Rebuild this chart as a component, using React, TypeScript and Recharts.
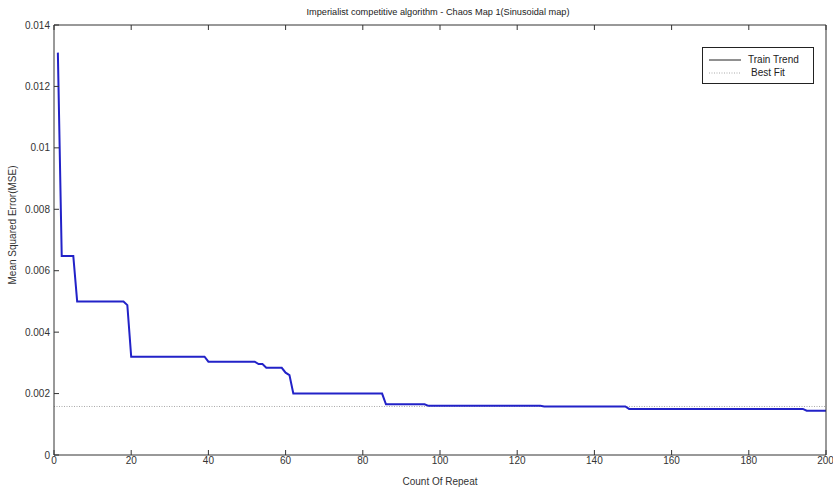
import React from 'react';
import { LineChart, Line, XAxis, YAxis, ReferenceLine } from 'recharts';

const chartTitle = 'Imperialist competitive algorithm - Chaos Map 1(Sinusoidal map)';

// breakpoints of the MSE curve
const iterations = [1, 2, 5, 6, 18, 19, 20, 39, 40, 52, 53, 54, 55, 59, 60, 61, 62, 85, 86, 96, 97, 126, 127, 148, 149, 194, 195, 200];
const mseValues = [
  0.0131, 0.00648, 0.00648, 0.005, 0.005, 0.00488, 0.0032, 0.0032, 0.00304, 0.00304,
  0.00296, 0.00296, 0.00284, 0.00284, 0.00268, 0.0026, 0.002, 0.002, 0.00165, 0.00165,
  0.0016, 0.0016, 0.00158, 0.00158, 0.0015, 0.0015, 0.00144, 0.00144,
];
const bestFit = 0.00158;

const xTicks = [0, 20, 40, 60, 80, 100, 120, 140, 160, 180, 200];
const yTicks = [0, 0.002, 0.004, 0.006, 0.008, 0.01, 0.012, 0.014];

const data = iterations.map((it, i) => ({ it, mse: mseValues[i] }));

const axisColor = '#333';
const font = '"Liberation Sans", Arial, sans-serif';

const LegendBox = () => (
  <div
    style={{
      position: 'absolute',
      left: 702,
      top: 47,
      width: 110,
      height: 35,
      border: '1px solid #222',
      background: '#fff',
      fontFamily: font,
      fontSize: 10,
      color: '#222',
    }}
  >
    <svg width={40} height={35} style={{ position: 'absolute', left: 0, top: 0 }}>
      <line x1={6} y1={12} x2={38} y2={12} stroke="#222" strokeWidth={1} />
      <line x1={6} y1={25} x2={38} y2={25} stroke="#aaa" strokeWidth={1} strokeDasharray="1 1.5" />
    </svg>
    <div style={{ position: 'absolute', left: 45, top: 6, lineHeight: '12px' }}>Train Trend</div>
    <div style={{ position: 'absolute', left: 48, top: 19, lineHeight: '12px' }}>Best Fit</div>
  </div>
);

export default function App() {
  return (
    <div style={{ position: 'absolute', left: 0, top: 0, width: 833, height: 491, background: '#fff' }}>
      <LineChart
        width={833}
        height={491}
        data={data}
        margin={{ top: 24, right: 6, bottom: 0, left: 0 }}
        style={{ fontFamily: font }}
      >
        <XAxis
          xAxisId="bottom"
          dataKey="it"
          type="number"
          domain={[0, 200]}
          ticks={xTicks}
          height={36}
          stroke={axisColor}
          tickSize={-5}
          tickMargin={7}
          tick={{ fontSize: 10, fill: '#333' }}
          label={{ value: 'Count Of Repeat', position: 'insideBottom', offset: 6, fontSize: 10, fill: '#333' }}
        />
        <XAxis
          xAxisId="top"
          dataKey="it"
          type="number"
          orientation="top"
          domain={[0, 200]}
          ticks={xTicks}
          height={1}
          stroke={axisColor}
          tickSize={-5}
          tickFormatter={() => ''}
        />
        <YAxis
          yAxisId="left"
          type="number"
          domain={[0, 0.014]}
          ticks={yTicks}
          width={54}
          stroke={axisColor}
          tickSize={-5}
          tickMargin={9}
          tick={{ fontSize: 10, fill: '#333' }}
          label={{
            value: 'Mean Squared Error(MSE)',
            angle: -90,
            position: 'insideLeft',
            offset: 12,
            dy: -15,
            fontSize: 10,
            fill: '#333',
            style: { textAnchor: 'middle' },
          }}
        />
        <YAxis
          yAxisId="right"
          type="number"
          orientation="right"
          domain={[0, 0.014]}
          ticks={yTicks}
          width={1}
          stroke={axisColor}
          tickSize={-5}
          tickFormatter={() => ''}
        />
        <ReferenceLine
          xAxisId="bottom"
          yAxisId="left"
          y={bestFit}
          stroke="#a8a8a8"
          strokeDasharray="1 1.5"
        />
        <Line
          xAxisId="bottom"
          yAxisId="left"
          dataKey="mse"
          type="linear"
          stroke="#2222c8"
          strokeWidth={2}
          dot={false}
          isAnimationActive={false}
        />
        <text x={438} y={15} textAnchor="middle" fontSize={9.2} fill="#222" fontFamily={font}>
          {chartTitle}
        </text>
      </LineChart>
      <LegendBox />
    </div>
  );
}
